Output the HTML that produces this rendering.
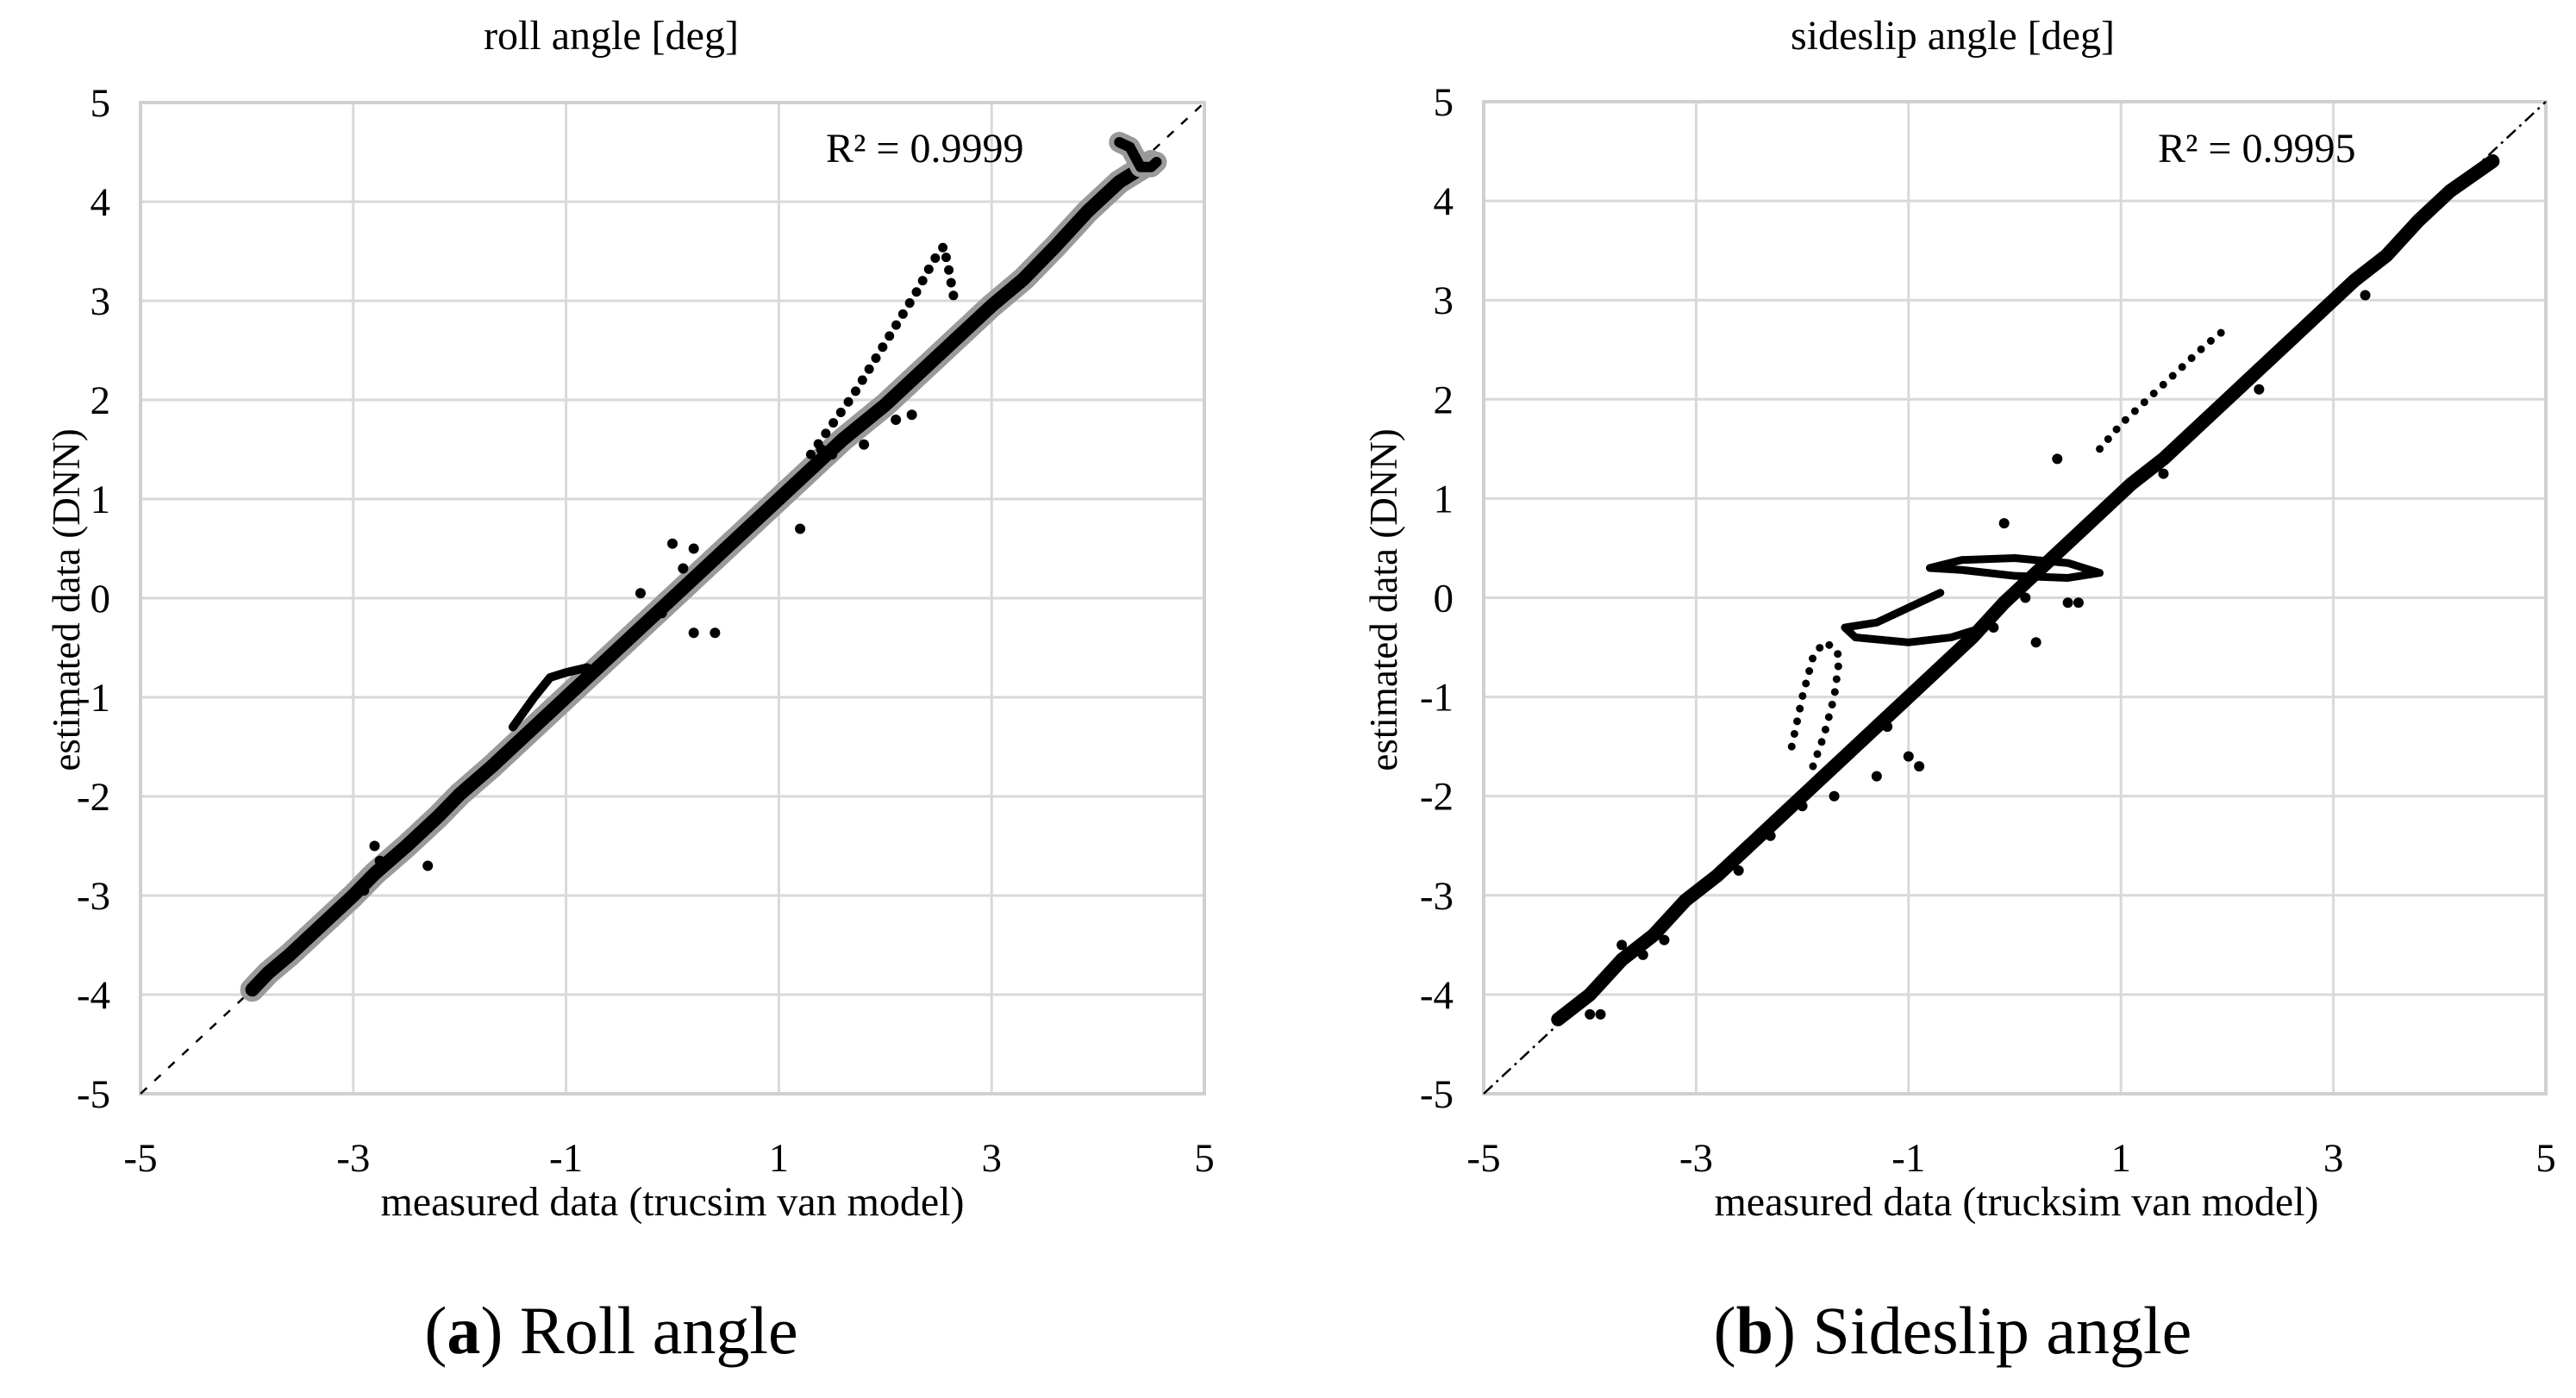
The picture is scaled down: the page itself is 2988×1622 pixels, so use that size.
<!DOCTYPE html>
<html><head><meta charset="utf-8"><style>
html,body{margin:0;padding:0;background:#fff;}
svg{display:block;font-family:"Liberation Serif",serif;}
</style></head><body>
<svg id="fig" width="2988" height="1622" viewBox="0 0 2988 1622" xmlns="http://www.w3.org/2000/svg"></svg>
<script>
// ---- data ----
const ticksX = [-5,-3,-1,1,3,5];
const ticksY = [-5,-4,-3,-2,-1,0,1,2,3,4,5];
// roll angle
const rollMainX = [-3.95,-3.8,-3.6,-3.3,-3.0,-2.8,-2.5,-2.2,-2.0,-1.7,-1.5,-1.2,-1.0,-0.7,-0.4,-0.1,0.2,0.5,0.8,1.0,1.3,1.6,2.0,2.3,2.6,3.0,3.3,3.6,3.9,4.2,4.5];
const rollMainY = [-3.95,-3.78,-3.6,-3.3,-3.0,-2.78,-2.5,-2.2,-1.98,-1.7,-1.5,-1.2,-1.0,-0.7,-0.4,-0.1,0.2,0.5,0.8,1.0,1.3,1.6,1.95,2.25,2.55,2.95,3.22,3.55,3.9,4.2,4.4];
const rollSpikeX = [1.3,1.5,1.7,1.9,2.1,2.3,2.45,2.55,2.6,2.65];
const rollSpikeY = [1.45,1.75,2.05,2.4,2.75,3.1,3.4,3.55,3.3,3.0];
const rollBumpX = [-1.5,-1.3,-1.15,-1.0,-0.8];
const rollBumpY = [-1.3,-1.0,-0.8,-0.75,-0.7];
const rollTailX = [4.2,4.3,4.35,4.4,4.5,4.55];
const rollTailY = [4.6,4.55,4.45,4.35,4.35,4.4];
const rollOutX = [0,0.2,-0.3,0.2,0.4,-2.8,-2.75,-2.3,2.1,2.25,-2.9,1.2,1.4,1.5,1.8,0.1,-0.1];
const rollOutY = [0.55,0.5,0.05,-0.35,-0.35,-2.5,-2.65,-2.7,1.8,1.85,-2.95,0.7,1.5,1.45,1.55,0.3,-0.15];
// sideslip angle
const slipMainX = [-4.3,-4.0,-3.7,-3.4,-3.1,-2.8,-2.5,-2.2,-1.9,-1.6,-1.3,-1.0,-0.7,-0.4,-0.1,0.2,0.5,0.8,1.1,1.4,1.7,2.0,2.3,2.6,2.9,3.2,3.5,3.8,4.1,4.5];
const slipMainY = [-4.25,-4.0,-3.65,-3.4,-3.05,-2.8,-2.5,-2.2,-1.9,-1.6,-1.3,-1.0,-0.7,-0.4,-0.05,0.25,0.55,0.85,1.15,1.4,1.7,2.0,2.3,2.6,2.9,3.2,3.45,3.8,4.1,4.4];
const slipLoop1X = [-2.1,-2.0,-1.9,-1.8,-1.7,-1.65,-1.7,-1.8,-1.9];
const slipLoop1Y = [-1.5,-1.0,-0.6,-0.45,-0.5,-0.6,-1.0,-1.4,-1.7];
const slipLoop2X = [-0.7,-1.0,-1.3,-1.6,-1.5,-1.0,-0.6,-0.3];
const slipLoop2Y = [0.05,-0.1,-0.25,-0.3,-0.4,-0.45,-0.4,-0.3];
const slipEllX = [-0.8,-0.5,0,0.5,0.8,0.5,0,-0.5,-0.8];
const slipEllY = [0.3,0.38,0.4,0.35,0.25,0.2,0.22,0.28,0.3];
const slipStreakX = [0.8,1.0,1.3,1.6,1.8,2.0];
const slipStreakY = [1.5,1.75,2.05,2.35,2.55,2.72];
const slipOutX = [-4.0,-3.9,-3.7,-3.5,-1.7,-1.3,-1.2,-1.0,-0.9,0.4,0.5,-0.1,0.6,0.2,-2.3,-2.0,-0.2,0.1,1.4,2.3,3.3,-3.3,-2.6];
const slipOutY = [-4.2,-4.2,-3.5,-3.6,-2.0,-1.8,-1.3,-1.6,-1.7,1.4,-0.05,0.75,-0.05,-0.45,-2.4,-2.1,-0.3,0.0,1.25,2.1,3.05,-3.45,-2.75];

const NS="http://www.w3.org/2000/svg";
const svg=document.getElementById('fig');
function mk(tag,attrs,parent){const e=document.createElementNS(NS,tag);for(const k in attrs)e.setAttribute(k,attrs[k]);(parent||svg).appendChild(e);return e;}

function panel(o){
  const g=mk('g',{});
  
  
  const sx=v=>o.x0+(v+5)/10*(o.x1-o.x0);
  const sy=v=>o.y1-(v+5)/10*(o.y1-o.y0);
  ticksX.forEach(t=>{const l=mk('line',{x1:sx(t),x2:sx(t),y1:o.y0,y2:o.y1,stroke:'#d9d9d9','stroke-width':3},g);
    
    
    const tx=mk('text',{x:sx(t),y:o.y1+90,'font-size':47,'text-anchor':'middle',fill:'#000'},g);tx.textContent=t;
    
    });
  ticksY.forEach(t=>{const l=mk('line',{x1:o.x0,x2:o.x1,y1:sy(t),y2:sy(t),stroke:'#d9d9d9','stroke-width':3},g);
    
    
    const tx=mk('text',{x:o.x0-35,y:sy(t)+16,'font-size':47,'text-anchor':'end',fill:'#000'},g);tx.textContent=t;
    
    });
  const fr=mk('rect',{x:o.x0,y:o.y0,width:o.x1-o.x0,height:o.y1-o.y0,fill:'none',stroke:'#d0d0d0','stroke-width':4},g);
  
  
  const diag=mk('line',{x1:sx(-5),y1:sy(-5),x2:sx(5),y2:sy(5),stroke:'#000','stroke-width':2.5,'stroke-dasharray':o.dash},g);
  
  
  const pts=(xs,ys)=>xs.map((v,i)=>sx(v)+','+sy(ys[i])).join(' ');
  o.series.forEach(s=>{
    if(s.halo){const h=mk('polyline',{points:pts(s.x,s.y),fill:'none',stroke:'#9a9a9a','stroke-width':s.w+12,'stroke-linejoin':'round','stroke-linecap':'round'},g);
      
      }
    const p=mk('polyline',{points:pts(s.x,s.y),fill:'none',stroke:'#000','stroke-width':s.w,'stroke-linejoin':'round','stroke-linecap':'round','stroke-dasharray':s.dots?'0 15':'none'},g);
    
    
  });
  o.out.x.forEach((v,i)=>{const c=mk('circle',{cx:sx(v),cy:sy(o.out.y[i]),r:6,fill:'#000'},g);
    
    });
  const t=mk('text',{x:o.cx,y:57,'font-size':48,'text-anchor':'middle'},g);t.textContent=o.title;
  
  
  const xt=mk('text',{x:o.xtx,y:1410,'font-size':48,'text-anchor':'middle'},g);xt.textContent=o.xtitle;
  
  
  const yt=mk('text',{x:0,y:0,'font-size':45,'text-anchor':'middle',transform:`translate(${o.ytx},696) rotate(-90)`},g);yt.textContent='estimated data (DNN)';
  
  
  const r=mk('text',{x:o.rx,y:188,'font-size':48},g);r.textContent=o.r2;
  
  
  const cap=mk('text',{x:o.cx,y:1570,'font-size':78,'text-anchor':'middle'},g);
  cap.innerHTML=o.cap;
  
  
}

panel({name:'roll-angle-chart',x0:163,x1:1397,y0:119,y1:1269,cx:709,dash:'10 12',
  title:'roll angle [deg]',xtitle:'measured data (trucsim van model)',xtx:780,ytx:92,rx:958,r2:'R² = 0.9999',
  cap:'(<tspan font-weight="bold">a</tspan>) Roll angle',
  series:[{name:'roll-main-band',x:rollMainX,y:rollMainY,w:16,halo:true},{name:'roll-spike',x:rollSpikeX,y:rollSpikeY,w:11,dots:true},
          {name:'roll-bump',x:rollBumpX,y:rollBumpY,w:10},{name:'roll-tail',x:rollTailX,y:rollTailY,w:12,halo:true}],
  out:{x:rollOutX,y:rollOutY}});
panel({name:'sideslip-angle-chart',x0:1721,x1:2953,y0:118,y1:1269,cx:2265,dash:'14 6 3 6',
  title:'sideslip angle [deg]',xtitle:'measured data (trucksim van model)',xtx:2339,ytx:1620,rx:2503,r2:'R² = 0.9995',
  cap:'(<tspan font-weight="bold">b</tspan>) Sideslip angle',
  series:[{name:'slip-main-band',x:slipMainX,y:slipMainY,w:16},{name:'slip-loop-left',x:slipLoop1X,y:slipLoop1Y,w:9,dots:true},
          {name:'slip-loop-mid',x:slipLoop2X,y:slipLoop2Y,w:9},{name:'slip-ellipse',x:slipEllX,y:slipEllY,w:9},
          {name:'slip-streak',x:slipStreakX,y:slipStreakY,w:9,dots:true}],
  out:{x:slipOutX,y:slipOutY}});
</script>
</body></html>
